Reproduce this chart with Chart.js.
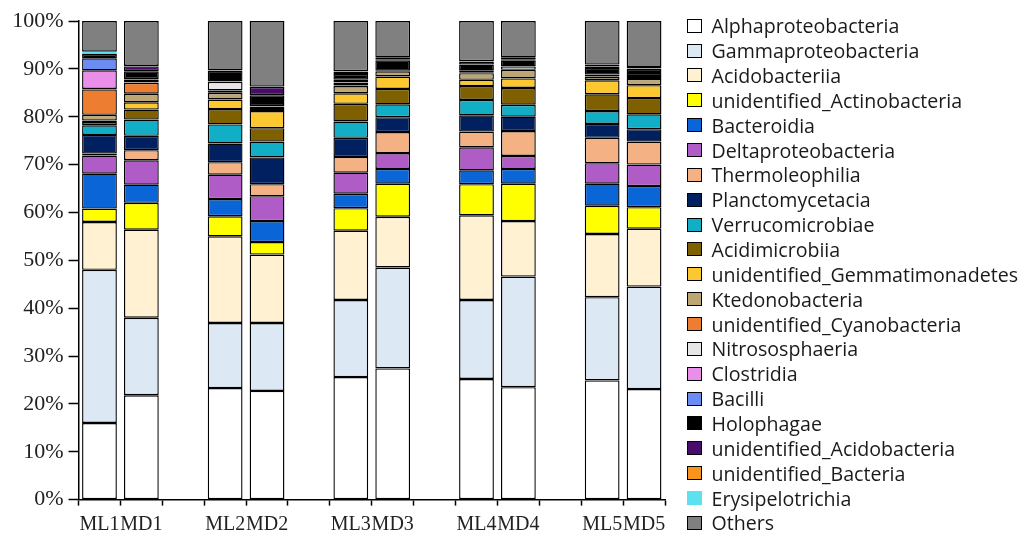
<!DOCTYPE html>
<html>
<head>
<meta charset="utf-8">
<script src="https://cdn.jsdelivr.net/npm/chart.js@4"></script>
<style>
  html, body { margin: 0; padding: 0; overflow: hidden; background: #ffffff; }
  #wrap { position: relative; width: 1023px; height: 543px; }
  #legend { position: absolute; left: 687px; top: 13.3px; font-family: 'Open Sans', sans-serif; font-size: 19.6px; color: #1a1a1a; }
  .item { display: flex; align-items: center; height: 24.87px; white-space: nowrap; }
  .box { width: 15px; height: 14px; box-sizing: border-box; border: 1.5px solid #000; margin-right: 9.5px; flex: none; }
</style>
</head>
<body>
<div id="wrap"><canvas id="c"></canvas><div id="legend"></div></div>
<script>
// ---- data ----
const categories = ['ML1','MD1','','ML2','MD2','','ML3','MD3','','ML4','MD4','','ML5','MD5'];
const samples = ['ML1','MD1','ML2','MD2','ML3','MD3','ML4','MD4','ML5','MD5'];
const yTicks = [0,10,20,30,40,50,60,70,80,90,100];

const alphaproteobacteria   = [16.0, 21.8, 23.3, 22.7, 25.6, 27.4, 25.2, 23.5, 24.9, 23.1];
const gammaproteobacteria   = [32.0, 16.2, 13.6, 14.2, 16.1, 21.1, 16.5, 23.1, 17.4, 21.4];
const acidobacteriia        = [10.0, 18.4, 18.1, 14.3, 14.5, 10.6, 17.7, 11.6, 13.2, 12.1];
const unidActinobacteria    = [2.8, 5.6, 4.2, 2.6, 4.7, 6.9, 6.5, 7.8, 5.9, 4.5];
const bacteroidia           = [7.3, 3.8, 3.6, 4.4, 3.0, 3.1, 2.9, 3.1, 4.6, 4.4];
const deltaproteobacteria   = [3.8, 5.1, 5.1, 5.2, 4.4, 3.3, 4.8, 2.7, 4.3, 4.5];
const thermoleophilia       = [0.4, 2.1, 2.6, 2.5, 3.3, 4.4, 3.3, 5.2, 5.3, 4.8];
const planctomycetacia      = [3.9, 3.0, 3.9, 5.6, 4.0, 3.1, 3.4, 3.0, 2.9, 2.6];
const verrucomicrobiae      = [2.0, 3.4, 4.0, 3.3, 3.4, 2.7, 3.2, 2.5, 2.7, 3.1];
const acidimicrobiia        = [0.7, 2.1, 3.2, 2.8, 3.7, 3.2, 2.9, 3.5, 3.5, 3.4];
const unidGemmatimonadetes  = [0.3, 1.5, 2.0, 3.6, 2.2, 2.6, 1.3, 2.0, 2.9, 2.7];
const ktedonobacteria       = [1.2, 1.8, 1.4, 0.6, 1.5, 1.1, 1.4, 1.8, 0.7, 1.3];
const unidCyanobacteria     = [5.3, 2.3, 0.5, 0.3, 0.1, 0.0, 0.1, 0.0, 0.0, 0.0];
const nitrososphaeria       = [0.1, 0.1, 1.8, 0.1, 0.6, 0.1, 0.5, 0.7, 0.1, 0.6];
const clostridia            = [3.9, 0.6, 0.1, 0.0, 0.1, 0.0, 0.0, 0.0, 0.0, 0.0];
const bacilli               = [2.5, 0.1, 0.0, 0.0, 0.5, 0.0, 0.0, 0.0, 0.4, 0.0];
const holophagae            = [0.9, 1.6, 2.2, 2.3, 1.2, 2.2, 1.2, 1.2, 1.4, 1.5];
const unidAcidobacteria     = [0.1, 1.0, 0.1, 1.7, 0.5, 0.2, 0.6, 0.2, 0.3, 0.1];
const unidBacteria          = [0.0, 0.1, 0.0, 0.1, 0.1, 0.4, 0.1, 0.5, 0.4, 0.3];
const erysipelotrichia      = [0.4, 0.0, 0.0, 0.0, 0.0, 0.0, 0.0, 0.0, 0.0, 0.0];
const others                = [6.4, 9.4, 10.3, 13.7, 10.5, 7.6, 8.4, 7.6, 9.1, 9.6];

const seriesNames = ['Alphaproteobacteria','Gammaproteobacteria','Acidobacteriia','unidentified_Actinobacteria',
  'Bacteroidia','Deltaproteobacteria','Thermoleophilia','Planctomycetacia','Verrucomicrobiae','Acidimicrobiia',
  'unidentified_Gemmatimonadetes','Ktedonobacteria','unidentified_Cyanobacteria','Nitrososphaeria','Clostridia',
  'Bacilli','Holophagae','unidentified_Acidobacteria','unidentified_Bacteria','Erysipelotrichia','Others'];
const seriesValues = [alphaproteobacteria, gammaproteobacteria, acidobacteriia, unidActinobacteria, bacteroidia,
  deltaproteobacteria, thermoleophilia, planctomycetacia, verrucomicrobiae, acidimicrobiia, unidGemmatimonadetes,
  ktedonobacteria, unidCyanobacteria, nitrososphaeria, clostridia, bacilli, holophagae, unidAcidobacteria,
  unidBacteria, erysipelotrichia, others];
const seriesColors = ['#ffffff','#dde8f5','#fff1d2','#ffff00','#0a66d6','#b05cc6','#f4b183','#00205f','#11aec6',
  '#7f6000','#fdc82f','#bca774','#ed7d31','#e6e6e6','#ea8fe9','#6b8cf2','#000000','#4a0c6b','#f7941d','#5ce1f0','#808080'];

// ---- build ----
const datasets = seriesNames.map((name, i) => ({
  label: name,
  data: categories.map(c => c ? seriesValues[i][samples.indexOf(c)] : null),
  backgroundColor: seriesColors[i],
  borderColor: name === 'Erysipelotrichia' ? seriesColors[i] : '#000000',
  borderWidth: 1.4,
  borderSkipped: false,
  categoryPercentage: 1.0,
  barPercentage: 0.83
}));

const serif = "'Liberation Serif', 'Times New Roman', serif";

const chart = new Chart(document.getElementById('c'), {
  type: 'bar',
  data: { labels: categories, datasets },
  options: {
    responsive: true,
    maintainAspectRatio: false,
    animation: false,
    layout: { padding: { left: 7.2, right: 358, top: 21, bottom: 0 } },
    plugins: {
      tooltip: { enabled: false },
      legend: { display: false }
    },
    scales: {
      x: {
        stacked: true,
        grid: { display: true, drawOnChartArea: false, drawTicks: true, tickLength: 6, tickColor: '#000', tickWidth: 1.5, offset: true },
        border: { display: true, color: '#000', width: 1.5 },
        ticks: { font: { family: serif, size: 20, lineHeight: 0.9 }, color: '#222', padding: 9.7, autoSkip: false, maxRotation: 0 }
      },
      y: {
        stacked: true,
        min: 0,
        max: 100,
        afterBuildTicks: s => { s.ticks = yTicks.map(v => ({ value: v })); },
        grid: { display: true, drawOnChartArea: false, drawTicks: true, tickLength: 10, tickColor: '#000', tickWidth: 1.5 },
        border: { display: true, color: '#000', width: 1.5 },
        ticks: { font: { family: serif, size: 22 }, color: '#222', padding: 5, callback: v => v + '%' }
      }
    }
  }
});

// ---- legend (HTML, from the chart's datasets) ----
const legendEl = document.getElementById('legend');
chart.data.datasets.forEach(ds => {
  const row = document.createElement('div');
  row.className = 'item';
  const box = document.createElement('span');
  box.className = 'box';
  box.style.background = ds.backgroundColor;
  box.style.borderColor = ds.borderColor;
  const txt = document.createElement('span');
  txt.textContent = ds.label;
  row.appendChild(box);
  row.appendChild(txt);
  legendEl.appendChild(row);
});
</script>
</body>
</html>
